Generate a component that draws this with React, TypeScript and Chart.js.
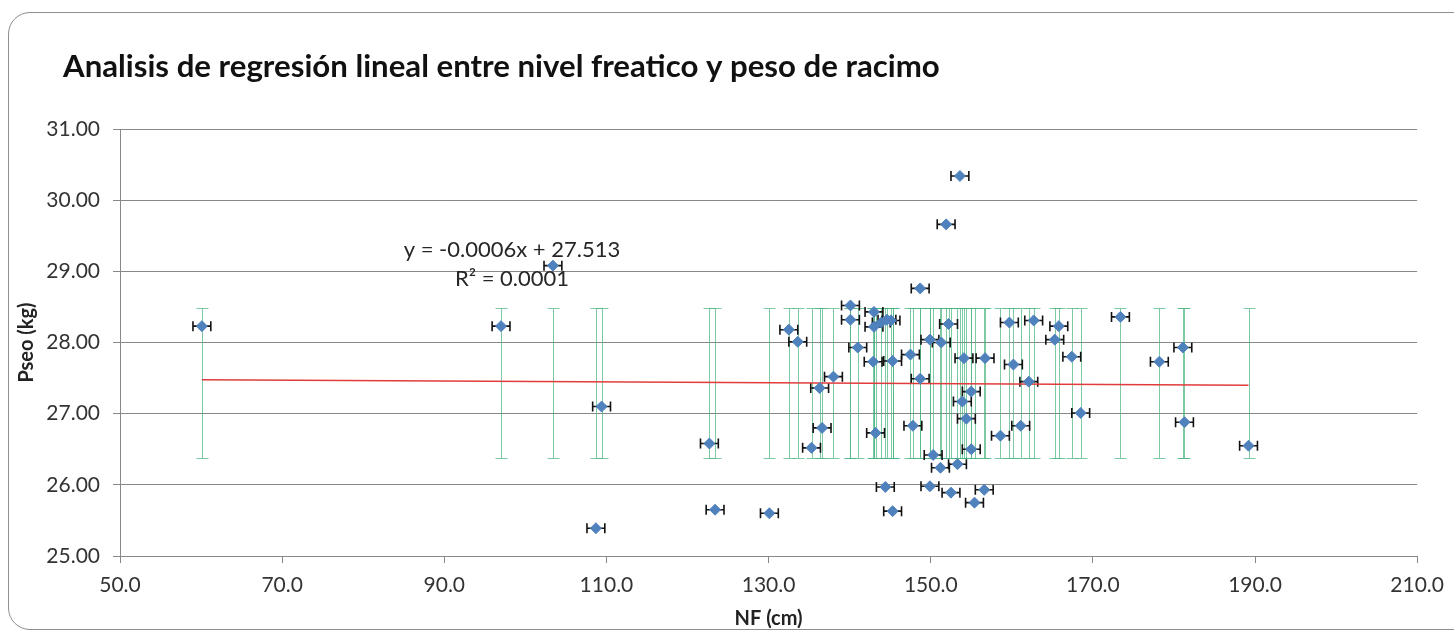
import React, { useEffect, useRef } from 'react';
import { Chart, registerables } from 'chart.js';

Chart.register(...registerables);

// NF (cm) values of each observation
const nf: number[] = [
  60.1, 97.0, 103.4, 108.7, 109.4, 122.7, 123.4, 130.1, 132.5, 133.6,
  135.3, 136.3, 136.6, 138.0, 140.1, 140.1, 141.0, 142.9, 143.0, 143.0,
  143.2, 143.9, 144.4, 144.6, 145.1, 145.3, 145.3, 147.5, 147.8, 148.7,
  148.7, 149.9, 149.9, 150.3, 151.2, 151.3, 151.9, 152.2, 152.5, 153.3,
  153.6, 153.9, 154.1, 154.4, 155.0, 155.0, 155.4, 156.6, 156.7, 158.6,
  159.7, 160.2, 161.1, 162.1, 162.7, 165.3, 165.8, 167.4, 168.5, 173.4,
  178.2, 181.1, 181.3, 189.2,
];

// Peso de racimo (kg) of each observation
const peso: number[] = [
  28.23, 28.23, 29.08, 25.39, 27.10, 26.58, 25.65, 25.60, 28.18, 28.01,
  26.52, 27.36, 26.80, 27.52, 28.52, 28.32, 27.93, 27.73, 28.43, 28.22,
  26.73, 28.28, 25.97, 28.32, 28.31, 27.74, 25.63, 27.83, 26.83, 28.76,
  27.49, 28.04, 25.98, 26.42, 26.24, 28.00, 29.66, 28.26, 25.89, 26.29,
  30.34, 27.17, 27.78, 26.93, 27.31, 26.50, 25.75, 25.93, 27.78, 26.69,
  28.28, 27.69, 26.83, 27.45, 28.31, 28.04, 28.23, 27.80, 27.01, 28.36,
  27.73, 27.93, 26.88, 26.55,
];

// horizontal error amount (cm)
const nfError = 1.1;
// vertical error band (kg) drawn at every NF value
const bandLow = 26.38;
const bandHigh = 28.48;

// linear trend line end points
const trendX: number[] = [60.1, 189.2];
const trendY: number[] = [27.477, 27.4];

const xMin = 50;
const xMax = 210;
const xStep = 20;
const yMin = 25;
const yMax = 31;
const yStep = 1;

const chartTitle = 'Analisis de regresión lineal entre nivel freatico y peso de racimo';
const xTitle = 'NF (cm)';
const yTitle = 'Pseo (kg)';
const eqLine1 = 'y = -0.0006x + 27.513';
const eqLine2 = 'R² = 0.0001';

const FONT = 'Lato';
const GRID = '#888888';

const overlayPlugin = {
  id: 'overlay',
  beforeDatasetsDraw(chart: any) {
    const { ctx, scales } = chart;
    const x = scales.x;
    const y = scales.y;
    ctx.save();
    // green vertical error bars
    ctx.strokeStyle = 'rgba(70,180,125,0.7)';
    ctx.lineWidth = 1;
    const yl = Math.round(y.getPixelForValue(bandLow)) + 0.5;
    const yh = Math.round(y.getPixelForValue(bandHigh)) + 0.5;
    nf.forEach((v) => {
      const px = Math.round(x.getPixelForValue(v)) + 0.5;
      ctx.beginPath();
      ctx.moveTo(px, yl);
      ctx.lineTo(px, yh);
      ctx.moveTo(px - 6, yl);
      ctx.lineTo(px + 6, yl);
      ctx.moveTo(px - 6, yh);
      ctx.lineTo(px + 6, yh);
      ctx.stroke();
    });
    // black horizontal error bars
    ctx.strokeStyle = '#111';
    ctx.lineWidth = 1.6;
    nf.forEach((v, i) => {
      const x0 = x.getPixelForValue(v - nfError);
      const x1 = x.getPixelForValue(v + nfError);
      const py = y.getPixelForValue(peso[i]);
      ctx.beginPath();
      ctx.moveTo(x0, py);
      ctx.lineTo(x1, py);
      ctx.moveTo(x0, py - 5);
      ctx.lineTo(x0, py + 5);
      ctx.moveTo(x1, py - 5);
      ctx.lineTo(x1, py + 5);
      ctx.stroke();
    });
    ctx.restore();
  },
  afterDraw(chart: any) {
    const { ctx } = chart;
    ctx.save();
    // chart title, fitted to the reference width
    ctx.font = `bold 30px ${FONT}`;
    const w = ctx.measureText(chartTitle).width;
    const size = (30 * 877) / w;
    ctx.font = `bold ${size}px ${FONT}`;
    ctx.fillStyle = '#111';
    ctx.textAlign = 'left';
    ctx.textBaseline = 'alphabetic';
    ctx.fillText(chartTitle, 63, 77);
    // trend equation
    ctx.font = `22px ${FONT}`;
    ctx.fillStyle = '#262626';
    ctx.textAlign = 'center';
    ctx.fillText(eqLine1, 512, 257);
    ctx.fillText(eqLine2, 512, 286);
    ctx.restore();
  },
};

export default function App() {
  const canvasRef = useRef<HTMLCanvasElement | null>(null);

  useEffect(() => {
    let chart: Chart | null = null;
    let cancelled = false;
    const build = () => {
      if (cancelled || !canvasRef.current) return;
      const tickFont = { family: FONT, size: 21 };
      chart = new Chart(canvasRef.current, {
        type: 'scatter',
        data: {
          datasets: [
            {
              type: 'scatter',
              data: nf.map((v, i) => ({ x: v, y: peso[i] })),
              pointStyle: 'rectRot',
              pointRadius: 5.5,
              pointBorderWidth: 1,
              backgroundColor: '#4F81BD',
              borderColor: '#4F81BD',
            },
            {
              type: 'line',
              data: trendX.map((v, i) => ({ x: v, y: trendY[i] })),
              borderColor: 'rgb(225,60,60)',
              borderWidth: 1.5,
              pointRadius: 0,
              fill: false,
              tension: 0,
            },
          ],
        } as any,
        options: {
          animation: false,
          responsive: false,
          events: [],
          layout: { padding: { left: 0, top: 129, right: 34, bottom: 0 } },
          plugins: {
            legend: { display: false },
            tooltip: { enabled: false },
            title: { display: false },
          },
          scales: {
            x: {
              type: 'linear',
              min: xMin,
              max: xMax,
              afterFit: (s: any) => {
                s.height = 76;
              },
              ticks: {
                stepSize: xStep,
                autoSkip: false,
                maxRotation: 0,
                padding: 10,
                color: '#333',
                font: tickFont,
                callback: (v: any) => Number(v).toFixed(1),
              },
              grid: {
                drawOnChartArea: false,
                drawTicks: true,
                tickLength: 7,
                color: GRID,
              },
              border: { color: GRID },
              title: {
                display: true,
                text: xTitle,
                color: '#222',
                font: { family: FONT, size: 20, weight: 'bold' },
                padding: { top: 0, bottom: 1 },
              },
            },
            y: {
              type: 'linear',
              min: yMin,
              max: yMax,
              afterFit: (s: any) => {
                s.width = 120;
              },
              ticks: {
                stepSize: yStep,
                padding: 13,
                color: '#333',
                font: tickFont,
                callback: (v: any) => Number(v).toFixed(2),
              },
              grid: { color: GRID, tickLength: 7 },
              border: { color: GRID },
              title: {
                display: true,
                text: yTitle,
                color: '#222',
                font: { family: FONT, size: 20, weight: 'bold' },
                padding: { top: 15, bottom: 0 },
              },
            },
          },
        } as any,
        plugins: [overlayPlugin],
      });
    };
    const fonts: any = (document as any).fonts;
    if (fonts && fonts.load) {
      Promise.all([fonts.load(`bold 20px ${FONT}`), fonts.load(`20px ${FONT}`)])
        .catch(() => null)
        .then(build);
    } else {
      build();
    }
    return () => {
      cancelled = true;
      if (chart) chart.destroy();
    };
  }, []);

  return (
    <div
      style={{
        position: 'fixed',
        left: 0,
        top: 0,
        width: 1454,
        height: 632,
        overflow: 'hidden',
        background: '#fff',
      }}
    >
      <div
        style={{
          position: 'absolute',
          left: 8,
          top: 12,
          width: 1480,
          height: 616,
          border: '1px solid #8f8f8f',
          borderRadius: 22,
        }}
      />
      <canvas
        ref={canvasRef}
        width={1454}
        height={632}
        style={{ position: 'absolute', left: 0, top: 0, width: 1454, height: 632 }}
      />
    </div>
  );
}
